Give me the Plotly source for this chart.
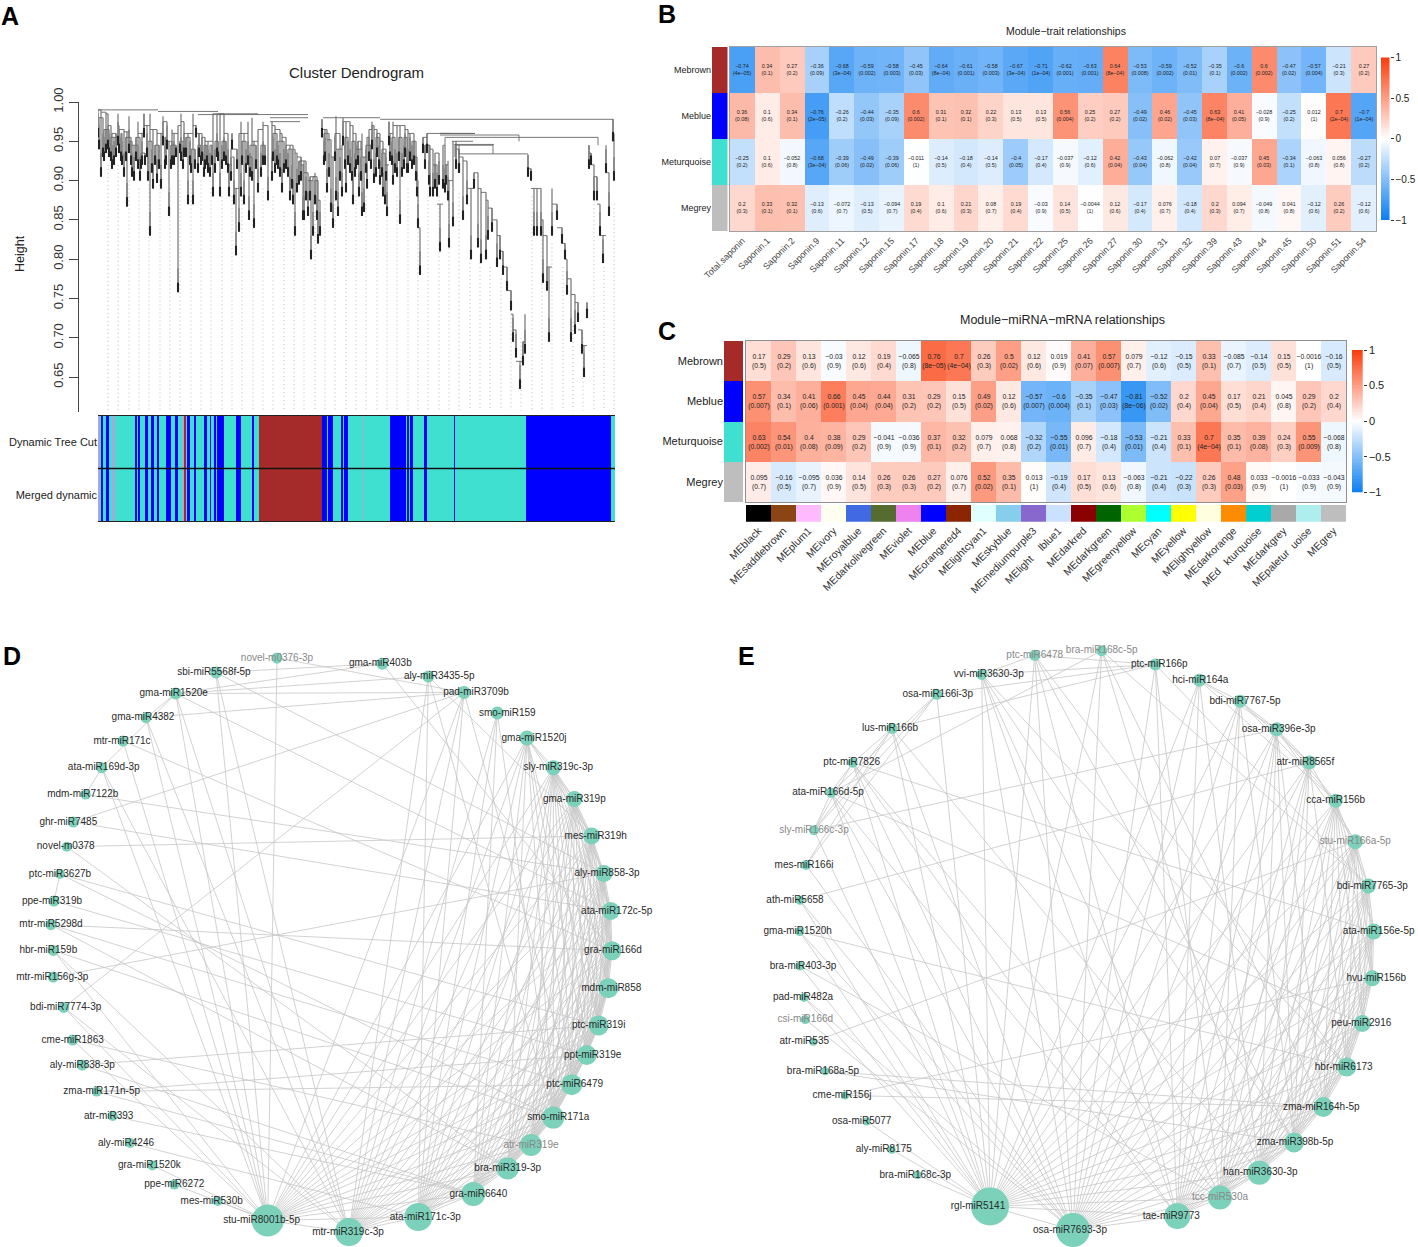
import plotly.graph_objects as go

W, H = 1418, 1247
FONT = "Liberation Sans"

# ---------- Panel A data ----------
clade_a = [(0,.99,.955),(3,.99,.905),(8,.987,.935),(10,.985,.94),(13,.97,.925),(16,.955,.92),(20,.985,.945),(21,.97,.935),
 (26,.965,.905),(29,.962,.867),(31,.982,.935),(34,.95,.905),(36,.945,.9),(40,.975,.915),(44,.96,.92),(46,.985,.955),
 (49,.97,.93),(52,.985,.83),(55,.965,.89),(59,.965,.897),(63,.96,.89),(65,.982,.945),(69,.975,.94),(71,.95,.855),
 (74,.965,.92),(76,.96,.92),(80,.97,.758),(83,.985,.925),(86,.975,.93),(90,.96,.87),(95,.985,.87),(98,.97,.955),
 (101,.96,.93),(104,.96,.925),(107,.955,.915),(110,.95,.91),(115,.985,.88),(119,.985,.93),(122,.985,.88),(126,.985,.925),
 (130,.96,.91),(131,.92,.88),(134,.96,.94),(136,.93,.87),(138,.89,.805),(141,.96,.835),(143,.975,.88),(146,.96,.87),
 (150,.975,.92),(151,.93,.85),(154,.98,.9),(156,.95,.84),(160,.965,.885),(165,.975,.92),(170,.97,.875)]
clade_b = [(174,.975,.90),(177,.97,.91),(182,.965,.905),(184,.96,.885),(188,.955,.915),(192,.945,.875),(195,.945,.87),
 (197,.94,.83),(199,.935,.885),(203,.93,.9),(205,.92,.85),(206,.925,.85),(210,.91,.855),(213,.90,.80),(215,.905,.83),
 (217,.91,.87),(220,.90,.82),(222,.875,.83)]
clade_c = [(224,.978,.955),(227,.965,.925),(229,.965,.885),(233,.952,.86),(235,.93,.84),(238,.982,.875),(240,.94,.855),
 (244,.945,.88),(245,.98,.945),(248,.975,.885),(252,.975,.91),(255,.97,.87),(258,.96,.915),(261,.94,.88),(264,.96,.855),
 (266,.93,.86),(269,.955,.89),(271,.965,.925),(274,.975,.94),(276,.97,.897),(279,.965,.93),(282,.96,.895),(285,.95,.88),
 (287,.935,.87),(289,.92,.855),(291,.975,.945),(292,.96,.925),(295,.975,.895),(299,.97,.905),(302,.97,.845),(307,.97,.93),
 (310,.965,.91),(312,.96,.925),(316,.96,.92),(319,.93,.88),(320,.90,.84),(322,.84,.78)]
clade_d = [(325,.955,.935),(329,.96,.935),(332,.945,.88),(335,.94,.88),(339,.92,.88),(342,.87,.81),(345,.945,.89),
 (347,.945,.885),(348,.92,.895),(350,.925,.875),(351,.9,.815),(355,.95,.842)]
clade_e = [(358,.95,.915),(361,.94,.91)]
clade_f = [(361,.934,.91),(365,.93,.85),(369,.925,.87),(373,.89,.80),(376,.91,.89),(380,.91,.815),(383,.89,.795),(388,.885,.80),
 (390,.875,.825),(394,.865,.835),(399,.85,.79),(402,.83,.80),(405,.81,.78),(409,.79,.76),(413,.76,.735),(415,.73,.695),
 (418,.71,.675),(422,.67,.635),(425,.695,.665),(427,.73,.68)]
clade_g = [(430,.933,.905),(433,.915,.90),(436,.89,.83),(439,.89,.83),(443,.89,.83),(445,.85,.77),(449,.83,.76),(451,.79,.695),
 (454,.89,.83),(459,.87,.85),(464,.84,.82),(467,.82,.80),(469,.80,.755),(473,.775,.695),(477,.755,.705),(480,.745,.72),
 (484,.71,.68),(486,.69,.65),(489,.745,.725)]
clade_h = [(491,.945,.915),(493,.935,.92),(496,.92,.875),(499,.905,.875),(502,.87,.83),(505,.83,.795),(508,.945,.91),(511,.91,.855)]
clade_i = [(515,.978,.95),(516,.96,.90)]
clades = [clade_a, clade_b, clade_c, clade_d, clade_e, clade_f, clade_g, clade_h, clade_i]
twigs = [(1,.98,.94),(5,.98,.93),(6,.965,.925),(11,.965,.93),(14,.96,.915),(18,.96,.93),(23,.96,.925),(24,.96,.92),(28,.955,.925),
 (33,.955,.92),(38,.955,.925),(42,.955,.9),(43,.935,.915),(47,.935,.92),(50,.95,.9),(54,.95,.91),(57,.945,.92),(61,.945,.915),
 (67,.955,.915),(68,.955,.92),(73,.945,.915),(78,.945,.93),(82,.95,.935),(85,.95,.915),(88,.955,.93),(92,.955,.92),(93,.94,.91),
 (97,.94,.915),(100,.945,.91),(103,.945,.92),(106,.945,.905),(109,.945,.92),(112,.945,.905),(114,.945,.92),(117,.95,.91),(120,.95,.925),
 (124,.95,.915),(128,.95,.92),(133,.94,.9),(139,.94,.915),(144,.95,.92),(148,.95,.91),(152,.945,.905),(158,.945,.915),(163,.945,.905),(167,.945,.92),
 (175,.96,.925),(179,.96,.92),(180,.95,.915),(186,.95,.91),(190,.94,.905),(194,.94,.89),(201,.925,.895),(208,.925,.875),
 (212,.905,.875),(219,.905,.85),(226,.96,.92),(231,.96,.905),(237,.96,.925),(242,.96,.9),(247,.955,.915),(250,.955,.92),(254,.95,.9),
 (257,.95,.905),(260,.95,.92),(263,.95,.9),(268,.945,.91),(273,.945,.915),(278,.955,.905),(281,.955,.915),(284,.94,.905),(288,.94,.9),
 (294,.955,.92),(297,.955,.91),(301,.955,.925),(304,.955,.905),(306,.955,.915),(309,.955,.91),(314,.95,.915),(318,.95,.9),(327,.945,.915),(331,.945,.895),(337,.935,.89),(341,.935,.895)]

spine_left  = [0,60,120,100,172,172,225,282,342,329,342,342,347,354,357,361,356]
spine_right = [60,120,160,210,210,202,282,515,377,352,377,421,500,375,395,430,396]
spine_h     = [.99,.988,.985,.984,.98,.975,.98,.978,.96,.96,.96,.958,.955,.95,.945,.934,.946]
link_x      = [395,500,421,347,357,361]
link_top    = [.945,.955,.958,.955,.945,.945]
link_bottom = [.934,.945,.95,.945,.93,.934]

guide_x = [10,20,31,41,51,62,72,82,93,103,113,124,134,144,155,165,175,186,196,206,217,227,237,248,258,268,279,289,299,310,
           320,330,341,351,361,372,382,392,403,413,423,434,444,454,465,475,485,496,506,516]
guide_top = [.92,.92,.9,.89,.9,.9,.89,.9,.9,.9,.89,.88,.88,.88,.88,.89,.88,.86,.87,.88,.86,.88,.88,.86,.88,.88,.88,.88,.88,.89,
             .88,.88,.88,.88,.884,.80,.795,.79,.775,.74,.70,.88,.84,.82,.79,.72,.70,.87,.79,.87]

band_edges = [0,2,3,5,8,11,14,17,37,39,40,42,47,50,53,56,59,61,68,73,77,80,84,86,88,89,92,96,98,106,109,112,113,116,118,119,
              126,138,143,154,156,161,224,229,230,235,243,245,246,250,265,266,292,308,309,311,312,315,326,329,356,357,428,513,515,517]
band_codes = [2,0,1,0,1,0,2,0,1,0,1,0,1,0,1,0,1,0,1,0,1,0,2,3,0,1,0,1,0,1,0,1,0,1,0,1,
              0,1,0,1,0,3,1,0,1,0,1,0,1,0,2,0,1,0,1,0,1,0,1,0,1,0,1,0,0]
merged_codes = list(band_codes)
band_colors = ["#40E0D0", "#0000FF", "#A8A8D8", "#A52A2A"]
band_rows = ["Merged dynamic", "Dynamic Tree Cut"]

# ---------- Panel B data ----------
traits = ["Total.saponin","Saponin.1","Saponin.2","Saponin.9","Saponin.11","Saponin.12","Saponin.15","Saponin.17","Saponin.18",
          "Saponin.19","Saponin.20","Saponin.21","Saponin.22","Saponin.25","Saponin.26","Saponin.27","Saponin.30","Saponin.31",
          "Saponin.32","Saponin.39","Saponin.43","Saponin.44","Saponin.45","Saponin.50","Saponin.51","Saponin.54"]
modules = ["Mebrown","Meblue","Meturquoise","Megrey"]
module_colors = ["#A52A2A","#0000FF","#40E0D0","#BEBEBE"]
b_brown = [-0.74,0.34,0.27,-0.36,-0.68,-0.59,-0.58,-0.45,-0.64,-0.61,-0.58,-0.67,-0.71,-0.62,-0.63,0.64,-0.53,-0.59,-0.52,-0.35,-0.6,0.6,-0.47,-0.57,-0.21,0.27]
b_blue = [0.36,0.1,0.34,-0.76,-0.26,-0.44,-0.35,0.6,0.31,0.32,0.22,0.13,0.13,0.56,0.25,0.27,-0.49,0.46,-0.45,0.63,0.41,-0.028,-0.25,0.012,0.7,-0.7]
b_turq = [-0.25,0.1,-0.052,-0.68,-0.39,-0.49,-0.39,-0.011,-0.14,-0.18,-0.14,-0.4,-0.17,-0.037,-0.12,0.42,-0.43,-0.062,-0.42,0.07,-0.037,0.45,-0.34,-0.063,0.056,-0.27]
b_grey = [0.2,0.33,0.32,-0.13,-0.072,-0.13,-0.094,0.19,0.1,0.21,0.08,0.19,-0.03,0.14,-0.0044,0.12,-0.17,0.076,-0.18,0.2,0.094,-0.049,0.041,-0.12,0.26,-0.12]
bp_brown = "4e-05 0.1 0.2 0.09 3e-04 0.002 0.003 0.03 8e-04 0.001 0.003 3e-04 1e-04 0.001 0.001 8e-04 0.008 0.002 0.01 0.1 0.002 0.002 0.02 0.004 0.3 0.2".split()
bp_blue = "0.08 0.6 0.1 2e-05 0.2 0.03 0.09 0.002 0.1 0.1 0.3 0.5 0.5 0.004 0.2 0.2 0.02 0.02 0.03 8e-04 0.05 0.9 0.2 1 2e-04 1e-04".split()
bp_turq = "0.2 0.6 0.8 3e-04 0.06 0.02 0.06 1 0.5 0.4 0.5 0.05 0.4 0.9 0.6 0.04 0.04 0.8 0.04 0.7 0.9 0.03 0.1 0.8 0.8 0.2".split()
bp_grey = "0.3 0.1 0.1 0.6 0.7 0.5 0.7 0.4 0.6 0.3 0.7 0.4 0.9 0.5 1 0.6 0.4 0.7 0.4 0.3 0.7 0.8 0.8 0.6 0.2 0.6".split()

# ---------- Panel C data ----------
me_labels = ["MEblack","MEsaddlebrown","MEplum1","MEivory","MEroyalblue","MEdarkolivegreen","MEviolet","MEblue","MEorangered4",
             "MElightcyan1","MEskyblue","MEmediumpurple3","MElight\u00a0\u00a0\u00a0\u00a0lblue1","MEdarkred","MEdarkgreen","MEgreenyellow",
             "MEcyan","MEyellow","MElightyellow","MEdarkorange","MEd\u00a0\u00a0\u00a0kturquoise","MEdarkgrey","MEpaletur\u00a0\u00a0uoise","MEgrey"]
me_colors = ["#000000","#8B4513","#FFBBFF","#FFFFF0","#4169E1","#556B2F","#EE82EE","#0000FF","#8B2500","#E0FFFF","#87CEEB","#8968CD",
             "#CAE1FF","#8B0000","#006400","#ADFF2F","#00FFFF","#FFFF00","#FFFFE0","#FF8C00","#00CED1","#A9A9A9","#AFEEEE","#BEBEBE"]
c_brown = [0.17,0.29,0.13,-0.03,0.12,0.19,-0.065,0.76,0.7,0.26,0.5,0.12,0.019,0.41,0.57,0.079,-0.12,-0.15,0.33,-0.085,-0.14,0.15,-0.0016,-0.16]
c_blue = [0.57,0.34,0.41,0.66,0.45,0.44,0.31,0.29,0.15,0.49,0.12,-0.57,-0.6,-0.35,-0.47,-0.81,-0.52,0.2,0.45,0.17,0.21,0.045,0.29,0.2]
c_turq = [0.63,0.54,0.4,0.38,0.29,-0.041,-0.036,0.37,0.32,0.079,0.068,-0.32,-0.55,0.096,-0.18,-0.53,-0.21,0.33,0.7,0.35,0.39,0.24,0.55,-0.068]
c_grey = [0.095,-0.16,-0.095,0.036,0.14,0.26,0.26,0.27,0.076,0.52,0.35,0.013,-0.19,0.17,0.13,-0.063,-0.21,-0.22,0.26,0.48,0.033,-0.0016,-0.033,-0.043]
cp_brown = "0.5 0.2 0.6 0.9 0.6 0.4 0.8 8e-05 4e-04 0.3 0.02 0.6 0.9 0.07 0.007 0.7 0.6 0.5 0.1 0.7 0.5 0.5 1 0.5".split()
cp_blue = "0.007 0.1 0.06 0.001 0.04 0.04 0.2 0.2 0.5 0.02 0.6 0.007 0.004 0.1 0.03 8e-06 0.02 0.4 0.04 0.5 0.4 0.8 0.2 0.4".split()
cp_turq = "0.002 0.01 0.08 0.09 0.2 0.9 0.9 0.1 0.2 0.7 0.8 0.2 0.01 0.7 0.4 0.01 0.4 0.1 4e-04 0.1 0.08 0.3 0.009 0.8".split()
cp_grey = "0.7 0.5 0.7 0.9 0.5 0.3 0.3 0.2 0.7 0.02 0.1 1 0.4 0.5 0.6 0.8 0.4 0.3 0.3 0.03 0.9 1 0.9 0.9".split()

# ---------- Panel D data ----------
d_names = ["novel-m0376-3p","gma-miR403b","aly-miR3435-5p","pad-miR3709b","smo-miR159","gma-miR1520j","sly-miR319c-3p","gma-miR319p",
 "mes-miR319h","aly-miR858-3p","ata-miR172c-5p","gra-miR166d","mdm-miR858","ptc-miR319i","ppt-miR319e","ptc-miR6479","smo-miR171a",
 "atr-miR319e","bra-miR319-3p","gra-miR6640","ata-miR171c-3p","mtr-miR319c-3p","stu-miR8001b-5p","mes-miR530b","ppe-miR6272",
 "gra-miR1520k","aly-miR4246","atr-miR393","zma-miR171n-5p","aly-miR838-3p","cme-miR1863","bdi-miR7774-3p","mtr-miR156g-3p",
 "hbr-miR159b","mtr-miR5298d","ppe-miR319b","ptc-miR3627b","novel-m0378","ghr-miR7485","mdm-miR7122b","ata-miR169d-3p","mtr-miR171c",
 "gma-miR4382","gma-miR1520e","sbi-miR5568f-5p"]
d_x = [277,382.3,428.3,464,497.3,527,553.3,574.3,591.7,604,610.7,612,608.3,598.7,586.7,571.7,553.3,531,507.7,473.3,418.3,349,267.7,
       217.7,174.3,152.3,130,112.7,96.7,82.3,72.7,63.7,53.3,53.3,51,54,60,66.7,73.3,85.7,101.7,123,146,175.7,216]
d_y = [658,663.7,676.4,692.4,713,738,767.8,799,836,873.4,911,950.8,988.3,1025.4,1055,1084.7,1117.6,1145,1168.5,1194,1217,1232,1220.5,
       1201,1184.6,1165.4,1143,1116,1091.6,1065,1040,1007.4,977,950.4,924.7,901,874,846.7,822,794.6,767.8,741,717.7,693.6,672.5]
d_degree = [11,12,12,13,13,15,15,16,17,17,18,19,20,20,20,21,22,22,22,24,28,28,32,10,10,10,10,10,10,11,11,11,11,11,11,11,10,10,11,10,11,11,11,12,12]
d_label_dx = [0,-2,11,12,10,7,5,0,4,3,6,1,3,0,6,3,5,0,0,5,7,-1,-6,-6,0,-3,-4,-4,5,0,0,2,-1,-5,0,-2,0,-1,-5,-3,2,-1,-3,-2,-2]
d_faint = ["novel-m0376-3p","atr-miR319e"]
d_links = {22:[0,3,5,6,7,8,9,10,11,12,13,14,15,16,17,18,19,20,21,23,24,25,30,31,33,40,41,42,43,44],
 21:[2,3,4,5,6,7,8,9,10,11,12,13,14,15,16,17,18,19,20,31,33,40,42,43,44],
 20:[2,3,4,5,6,7,8,9,10,11,12,13,14,15,16,17,18,19,26],
 19:[4,5,6,7,8,9,10,11,12,13,14,15,16,17,18,27,28,29],
 18:[5,6,7,8,9,10,11,12,13,14,15,16,17,34,37],
 17:[6,7,8,9,10,11,12,13,14,15,16,30],
 16:[2,4,5,6,7,8,9,10,11,12,13,14,15,33,36],
 15:[3,5,6,7,8,9,10,11,12,13,14,28,34],
 14:[5,6,7,8,9,10,11,12,13,28,35],
 13:[5,6,7,8,9,10,11,12,29,36],
 12:[6,7,8,9,10,11],
 11:[1,6,7,8,9,10,34,41],
 10:[6,7,8,9,38,43],
 9:[6,7,8,32,39,44],
 8:[2,5,6,7,37],
 7:[5,6], 6:[5], 0:[3], 1:[43,44], 3:[38,42,43], 2:[43], 36:[35], 43:[40,42], 40:[39], 31:[3]}

# ---------- Panel E data ----------
e_names = ["ptc-miR6478","bra-miR168c-5p","ptc-miR166p","hci-miR164a","bdi-miR7767-5p","osa-miR396e-3p","atr-miR8565f","cca-miR156b",
 "stu-miR166a-5p","bdi-miR7765-3p","ata-miR156e-5p","hvu-miR156b","peu-miR2916","hbr-miR6173","zma-miR164h-5p","zma-miR398b-5p",
 "han-miR3630-3p","tcc-miR530a","tae-miR9773","osa-miR7693-3p","rgl-miR5141","bra-miR168c-3p","aly-miR8175","osa-miR5077","cme-miR156j",
 "bra-miR168a-5p","atr-miR535","csi-miR166d","pad-miR482a","bra-miR403-3p","gma-miR1520h","ath-miR5658","mes-miR166i","sly-miR166c-3p",
 "ata-miR166d-5p","ptc-miR7826","lus-miR166b","osa-miR166i-3p","vvi-miR3630-3p"]
e_x = [1034.7,1101.7,1155.3,1199.3,1240,1276.7,1309.3,1335.7,1355.3,1368.3,1373.7,1372.3,1362.3,1346.7,1323.3,1294,1259.3,1220,1177.3,
       1073,990,917.3,891.7,866.7,845,825,813.3,805.3,804,800,799.7,800,806,814,831,852.7,892,936.7,981.7]
e_y = [655.3,650.7,664.5,680.2,701.2,729.2,762.5,800.7,841.7,886,931.6,978.3,1023.5,1067,1107,1142.5,1172.7,1197.6,1216,1230,1206.4,
       1175,1149.8,1121.4,1095.4,1071.3,1041.8,1019.6,997.4,966,931.6,900.2,865,830.2,792.7,762.8,728.4,694.3,674.4]
e_degree = [11,11,12,13,13,14,14,14,15,15,16,16,17,19,20,20,24,24,26,34,38,8,8,8,8,8,8,9,9,9,9,9,10,10,10,10,11,11,11]
e_label_dx = [0,0,4,1,5,2,-4,0,0,4,5,4,-1,-3,-2,1,1,0,-6,-3,-12,-2,-8,-5,-3,-2,-9,0,-1,3,-2,-5,-2,0,-3,-1,-2,1,7]
e_faint = ["ptc-miR6478","bra-miR168c-5p","sly-miR166c-3p","csi-miR166d","stu-miR166a-5p","tcc-miR530a"]
e_links = {20:[0,1,3,4,5,6,7,8,9,10,11,12,13,14,15,16,17,18,19,21,22,23,28,29,30,31,33,34,35,36,37,38],
 19:[0,1,2,3,4,5,6,7,8,9,10,11,12,13,14,15,16,17,18,27,28,30,31,32,34,35,36,38],
 18:[0,2,3,4,5,6,7,8,9,10,11,12,13,14,15,16,17,34,35,38],
 17:[2,4,5,6,7,8,9,10,11,12,13,14,15,16,29,35,38],
 16:[1,3,5,6,7,8,9,10,11,12,13,14,15,36],
 15:[0,4,5,6,7,8,9,10,11,12,13,14,25,38],
 14:[1,5,7,8,9,10,11,12,13,24,25],
 13:[0,6,7,8,9,10,11,12,30,38],
 12:[7,8,9,10,11,34],
 11:[7,8,9,10,24],
 10:[7,8,9,35],
 9:[1,2,7,8],
 8:[5,6,26], 7:[3,4,5], 6:[4,5,31], 5:[3,4,33], 4:[3], 2:[0,36,37,38],
 37:[32,33,34], 36:[32,33,35], 35:[33,34], 34:[33], 0:[38], 1:[34]}

# ---------- helpers ----------
def dom_x(a, b): return [a / W, b / W]
def dom_y(top, bottom): return [1 - bottom / H, 1 - top / H]
def step_scale(colors):
    n = len(colors); out = []
    for i, c in enumerate(colors):
        out += [[i / n, c], [(i + 1) / n, c]]
    return out
def fmt(v): return str(v).replace("-", "\u2212")
def cell_text(vals, ps): return [f"{fmt(v)}<br>({fmt(p)})" for v, p in zip(vals, ps)]

RB = [[0, "#0a7ef2"], [0.5, "#ffffff"], [1, "#fa3c0a"]]
fig = go.Figure()

def hidden_axis(**kw):
    return dict(showgrid=False, zeroline=False, showticklabels=False, ticks="", showline=False, **kw)

layout_axes = {}
layout_axes["xaxis"] = hidden_axis(domain=[0, 1], range=[0, W])
layout_axes["yaxis"] = hidden_axis(domain=[0, 1], range=[H, 0])

def network(names, xs, ys, degree, dx, faint, links):
    ex, ey = [], []
    for a, bs in links.items():
        for b in bs:
            ex += [xs[a], xs[b], None]; ey += [ys[a], ys[b], None]
    fig.add_trace(go.Scatter(x=ex, y=ey, mode="lines", line=dict(color="#c6c6c6", width=0.8), hoverinfo="skip", showlegend=False))
    fig.add_trace(go.Scatter(x=xs, y=ys, mode="markers", marker=dict(size=degree, color="#7bd1ba", opacity=1, line=dict(width=0)), showlegend=False))
    fig.add_trace(go.Scatter(x=[a + b for a, b in zip(xs, dx)], y=ys, mode="text", text=names, textposition="middle center",
                             textfont=dict(family=FONT, size=10, color=["#888888" if n in faint else "#2a2a2a" for n in names]),
                             hoverinfo="skip", showlegend=False))
network(d_names, d_x, d_y, d_degree, d_label_dx, d_faint, d_links)
network(e_names, e_x, e_y, e_degree, e_label_dx, e_faint, e_links)

# dendrogram
stem_x, stem_y, tip_x, tip_y, sleeve_x, sleeve_y, conn_x, conn_y = [], [], [], [], [], [], [], []
for cl in clades + [twigs]:
    for (p, t, b) in cl:
        stem_x += [p, p, None]; stem_y += [t, b, None]
        tip_x += [p, p, None]; tip_y += [min(t, b + 0.012), b, None]
        sleeve_x += [p, p, None]; sleeve_y += [min(t, b + 0.03), b, None]
for cl in clades:
    for (p0, t0, _), (p1, t1, _) in zip(cl, cl[1:]):
        conn_x += [p0, p1, None]; conn_y += [min(t0, t1)] * 2 + [None]
for (p0, t0, _), (p1, t1, _) in zip(twigs[::2], twigs[1::2]):   # each twig pair is one small fork
    conn_x += [p0, p1, None]; conn_y += [min(t0, t1)] * 2 + [None]
for l, r, h in zip(spine_left, spine_right, spine_h):
    conn_x += [l, r, None]; conn_y += [h, h, None]
for p, t, b in zip(link_x, link_top, link_bottom):
    conn_x += [p, p, None]; conn_y += [t, b, None]
gx, gy = [], []
for p, t in zip(guide_x, guide_top):
    gx += [p, p, None]; gy += [t, 0.6075, None]
for xs_, ys_, ln in [(gx, gy, dict(color="#a8a8a8", width=0.8, dash="1px,3px")),
                     (stem_x, stem_y, dict(color="#666666", width=1.1)),
                     (sleeve_x, sleeve_y, dict(color="#888888", width=1.8)),
                     (conn_x, conn_y, dict(color="#666666", width=0.9)),
                     (tip_x, tip_y, dict(color="#222222", width=2.1))]:
    fig.add_trace(go.Scatter(x=xs_, y=ys_, xaxis="x2", yaxis="y2", mode="lines", line=ln, hoverinfo="skip", showlegend=False))
layout_axes["xaxis2"] = hidden_axis(domain=dom_x(98, 615), range=[0, 517], anchor="y2")
layout_axes["yaxis2"] = dict(domain=dom_y(102, 412), range=[0.6055, 1.0], anchor="free", position=77.5 / W, showgrid=False, zeroline=False,
                             tickvals=[0.65, 0.7, 0.75, 0.8, 0.85, 0.9, 0.95, 1.0], ticktext=["0.65","0.70","0.75","0.80","0.85","0.90","0.95","1.00"],
                             tickangle=-90, ticks="outside", ticklen=9, tickcolor="#444", tickwidth=1, showline=True, linecolor="#444", linewidth=1,
                             tickfont=dict(family=FONT, size=13, color="#333"))
# colour bands
fig.add_trace(go.Heatmap(x=band_edges, y=[0, 1], z=[merged_codes, band_codes], xaxis="x3", yaxis="y3", zmin=-0.5, zmax=3.5,
                         colorscale=step_scale(band_colors), showscale=False, hoverinfo="skip"))
layout_axes["xaxis3"] = dict(domain=dom_x(98, 615), range=[0, 517], anchor="y3", showgrid=False, zeroline=False, showticklabels=False,
                             showline=True, mirror=True, linecolor="#222", linewidth=1, ticks="")
layout_axes["yaxis3"] = dict(domain=dom_y(416, 521), range=[-0.5, 1.5], anchor="x3", showgrid=False, zeroline=False, ticks="", ticklen=0,
                             tickmode="array", tickvals=[0, 1], ticktext=band_rows, showticklabels=True,
                             tickfont=dict(family=FONT, size=11, color="#222"))

# colour keys drawn as narrow heatmaps on their own axes
key_levels = [i / 50 - 1 for i in range(101)]
key_ticks = [-1, -0.5, 0, 0.5, 1]
key_labels = ["\u22121", "\u22120.5", "0", "0.5", "1"]
def colour_key(n, x0, x1, top, bottom, fs):
    fig.add_trace(go.Heatmap(z=[[v] for v in key_levels], x=[0], y=key_levels, zmin=-1, zmax=1, colorscale=RB, showscale=False,
                             xaxis=f"x{n}", yaxis=f"y{n}", hoverinfo="skip"))
    layout_axes[f"xaxis{n}"] = hidden_axis(domain=dom_x(x0, x1), range=[-0.5, 0.5], anchor=f"y{n}")
    layout_axes[f"yaxis{n}"] = dict(domain=dom_y(top, bottom), range=[-1, 1], anchor=f"x{n}", side="right", showgrid=False, zeroline=False,
                                    tickvals=key_ticks, ticktext=key_labels, ticks="outside", ticklen=3, tickcolor="#333",
                                    tickfont=dict(family=FONT, size=fs, color="#222"))

# B
fig.add_trace(go.Heatmap(z=[b_brown, b_blue, b_turq, b_grey], x=list(range(26)), y=list(range(4)),
    text=[cell_text(b_brown, bp_brown), cell_text(b_blue, bp_blue), cell_text(b_turq, bp_turq), cell_text(b_grey, bp_grey)],
    texttemplate="%{text}", textfont=dict(family=FONT, size=5.4, color="#222"), zmin=-1, zmax=1, colorscale=RB, xaxis="x4", yaxis="y4",
    hoverinfo="skip", showscale=False))
layout_axes["xaxis4"] = dict(domain=dom_x(730, 1376), range=[-0.5, 25.5], anchor="y4", showgrid=False, zeroline=False, tickvals=list(range(26)), ticktext=traits,
    tickangle=-45, ticks="", showline=True, mirror=True, linecolor="#a0a0a0", linewidth=1, tickfont=dict(family=FONT, size=9, color="#444"))
layout_axes["yaxis4"] = dict(domain=dom_y(47, 231), range=[3.5, -0.5], anchor="x4", showgrid=False, zeroline=False, showticklabels=False, ticks="",
    showline=True, mirror=True, linecolor="#a0a0a0", linewidth=1)
fig.add_trace(go.Heatmap(z=[[0], [1], [2], [3]], x=[0], y=list(range(4)), zmin=-0.5, zmax=3.5, colorscale=step_scale(module_colors), showscale=False,
                         xaxis="x5", yaxis="y5", hoverinfo="skip"))
layout_axes["xaxis5"] = hidden_axis(domain=dom_x(712, 727.5), range=[-0.5, 0.5], anchor="y5")
layout_axes["yaxis5"] = dict(domain=dom_y(47, 231), range=[3.5, -0.5], anchor="x5", showgrid=False, zeroline=False, ticks="", tickvals=list(range(4)), ticktext=modules,
                             tickfont=dict(family=FONT, size=9, color="#222"))
colour_key(9, 1381, 1389.5, 57.5, 220, 10)

# C
fig.add_trace(go.Heatmap(z=[c_brown, c_blue, c_turq, c_grey], x=list(range(24)), y=list(range(4)),
    text=[cell_text(c_brown, cp_brown), cell_text(c_blue, cp_blue), cell_text(c_turq, cp_turq), cell_text(c_grey, cp_grey)],
    texttemplate="%{text}", textfont=dict(family=FONT, size=6.8, color="#222"), zmin=-1, zmax=1, colorscale=RB, xaxis="x6", yaxis="y6",
    hoverinfo="skip", showscale=False))
layout_axes["xaxis6"] = dict(domain=dom_x(746, 1346), range=[-0.5, 23.5], anchor="y6", showgrid=False, zeroline=False, showticklabels=False, ticks="",
                             showline=True, mirror=True, linecolor="#909090", linewidth=1)
layout_axes["yaxis6"] = dict(domain=dom_y(341, 502), range=[3.5, -0.5], anchor="x6", showgrid=False, zeroline=False, showticklabels=False, ticks="",
                             showline=True, mirror=True, linecolor="#909090", linewidth=1)
fig.add_trace(go.Heatmap(z=[[0], [1], [2], [3]], x=[0], y=list(range(4)), zmin=-0.5, zmax=3.5, colorscale=step_scale(module_colors), showscale=False,
                         xaxis="x7", yaxis="y7", hoverinfo="skip"))
layout_axes["xaxis7"] = hidden_axis(domain=dom_x(724, 743.3), range=[-0.5, 0.5], anchor="y7")
layout_axes["yaxis7"] = dict(domain=dom_y(341, 502), range=[3.5, -0.5], anchor="x7", showgrid=False, zeroline=False, ticks="", tickvals=list(range(4)), ticktext=modules,
                             tickfont=dict(family=FONT, size=11, color="#222"))
fig.add_trace(go.Heatmap(z=[list(range(24))], x=list(range(24)), y=[0], zmin=-0.5, zmax=23.5, colorscale=step_scale(me_colors), showscale=False,
                         xaxis="x8", yaxis="y8", hoverinfo="skip"))
layout_axes["xaxis8"] = dict(domain=dom_x(746, 1346), range=[-0.5, 23.5], anchor="y8", showgrid=False, zeroline=False, ticks="", tickvals=list(range(24)), ticktext=me_labels,
                             tickangle=-45, tickfont=dict(family=FONT, size=10.5, color="#333"))
layout_axes["yaxis8"] = hidden_axis(domain=dom_y(505, 521.7), range=[-0.5, 0.5], anchor="x8")
colour_key(10, 1352, 1362.7, 350, 492.3, 11)

def note(text, x, y, size, color="#222", bold=False, angle=0):
    return dict(text=f"<b>{text}</b>" if bold else text, xref="paper", yref="paper", x=x / W, y=1 - y / H, showarrow=False, xanchor="center", yanchor="middle",
                textangle=angle, font=dict(family=FONT, size=size, color=color))
annotations = [note("A", 10, 16, 25, "#000", True), note("B", 667, 14, 25, "#000", True), note("C", 667, 331, 25, "#000", True),
               note("D", 12, 656, 25, "#000", True), note("E", 747, 656, 25, "#000", True),
               note("Cluster Dendrogram", 356, 73, 15), note("Height", 20, 254, 12.5, angle=-90),
               note("Module\u2212trait relationships", 1066, 31, 10.5), note("Module\u2212miRNA\u2212mRNA relationships", 1062, 320, 12.5)]
shapes = [dict(type="line", xref="x3", yref="y3", x0=0, x1=517, y0=0.5, y1=0.5, line=dict(color="#111", width=1.5))]

fig.update_layout(width=W, height=H, margin=dict(l=0, r=0, t=0, b=0, pad=0, autoexpand=False), paper_bgcolor="white", plot_bgcolor="rgba(0,0,0,0)",
                  showlegend=False, annotations=annotations, shapes=shapes, font=dict(family=FONT), **layout_axes)
fig.write_html("out.html", post_script="document.body.style.margin='0';", config={"displayModeBar": False})
